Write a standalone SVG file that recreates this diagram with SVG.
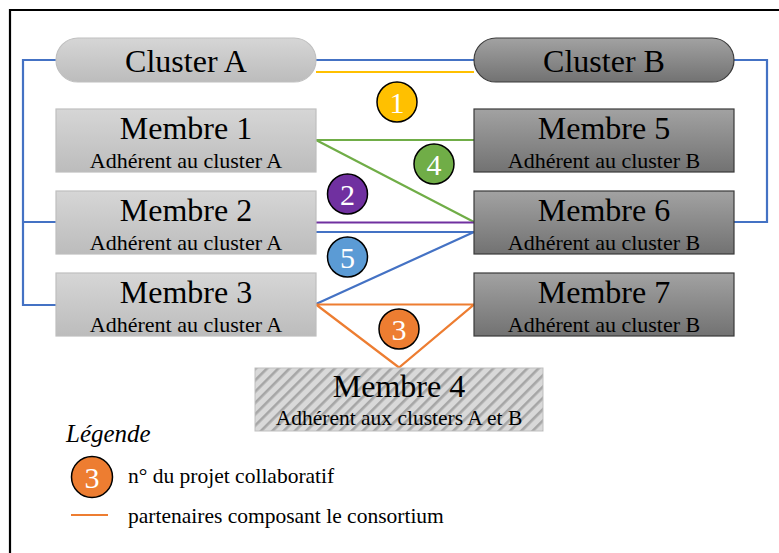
<svg xmlns="http://www.w3.org/2000/svg" width="779" height="553" viewBox="0 0 779 553">
<defs>
<linearGradient id="gLight" x1="0" y1="0" x2="0" y2="1"><stop offset="0" stop-color="#d6d6d6"/><stop offset="1" stop-color="#bcbcbc"/></linearGradient>
<linearGradient id="gDark" x1="0" y1="0" x2="0" y2="1"><stop offset="0" stop-color="#a2a2a2"/><stop offset="1" stop-color="#727272"/></linearGradient>
<pattern id="hatch" width="8" height="8" patternUnits="userSpaceOnUse" patternTransform="rotate(45)">
<rect width="8" height="8" fill="#d9d9d9"/><rect x="0" y="0" width="2.6" height="8" fill="#a6a6a6"/>
</pattern>
<style>
text{font-family:'Liberation Serif','Times New Roman','DejaVu Serif',serif}
.t{fill:#000;text-anchor:middle}
.big{font-size:32px}
.sub{font-size:22px}
.light{fill:url(#gLight);stroke:#bfbfbf;stroke-width:1.2}
.dark{fill:url(#gDark);stroke:#3a3a3a;stroke-width:1.2}
.ln{fill:none;stroke-width:2.2}
.num{font-size:30px;fill:#fff;text-anchor:middle}
.circ{stroke:#000;stroke-width:1.5}
.leg{font-size:21.5px;fill:#000}
</style>
</defs>
<rect x="0" y="0" width="779" height="553" fill="#fff"/>
<path d="M10,560 V10 H790" fill="none" stroke="#000" stroke-width="2.2"/>

<g id="connectors">
<path class="ln" stroke="#4472c4" d="M56,60 H23 V305 H56 M23,222 H56"/>
<path class="ln" stroke="#4472c4" d="M316,60 H474"/>
<path class="ln" stroke="#4472c4" d="M734,60 H767 V222 H734"/>
<path class="ln" stroke="#ffc000" d="M316,72 H474"/>
<path class="ln" stroke="#70ad47" d="M316,140 H474 M316,140 L474,222"/>
<path class="ln" stroke="#7030a0" d="M316,222.5 H474"/>
<path class="ln" stroke="#4472c4" d="M316,232 H474 M316,304 L474,232"/>
<path class="ln" stroke="#ed7d31" d="M316,304.5 H474 L399,367.5 Z"/>
</g>

<g id="clusterA"><rect class="light" x="56" y="38" width="260" height="44" rx="22"/><text class="t big" x="186" y="72">Cluster A</text></g>
<g id="clusterB"><rect class="dark" x="474" y="38" width="260" height="44" rx="22"/><text class="t big" x="604" y="72">Cluster B</text></g>

<g id="membre1"><rect class="light" x="56" y="109" width="260" height="63"/><text class="t big" x="186" y="139">Membre 1</text><text class="t sub" x="186" y="168">Adhérent au cluster A</text></g>
<g id="membre2"><rect class="light" x="56" y="191" width="260" height="63"/><text class="t big" x="186" y="221">Membre 2</text><text class="t sub" x="186" y="250">Adhérent au cluster A</text></g>
<g id="membre3"><rect class="light" x="56" y="273" width="260" height="63"/><text class="t big" x="186" y="303">Membre 3</text><text class="t sub" x="186" y="332">Adhérent au cluster A</text></g>
<g id="membre5"><rect class="dark" x="474" y="109" width="260" height="63"/><text class="t big" x="604" y="139">Membre 5</text><text class="t sub" x="604" y="168">Adhérent au cluster B</text></g>
<g id="membre6"><rect class="dark" x="474" y="191" width="260" height="63"/><text class="t big" x="604" y="221">Membre 6</text><text class="t sub" x="604" y="250">Adhérent au cluster B</text></g>
<g id="membre7"><rect class="dark" x="474" y="273" width="260" height="63"/><text class="t big" x="604" y="303">Membre 7</text><text class="t sub" x="604" y="332">Adhérent au cluster B</text></g>
<g id="membre4"><rect x="255" y="368" width="288" height="63" fill="url(#hatch)" stroke="#bfbfbf" stroke-width="1"/><text class="t big" x="399" y="397">Membre 4</text><text class="t" x="399" y="425" style="font-size:21.5px">Adhérent aux clusters A et B</text></g>

<g id="p1"><circle class="circ" cx="397" cy="102" r="20" fill="#ffc000"/><text class="num" x="397" y="113">1</text></g>
<g id="p2"><circle class="circ" cx="347.5" cy="194" r="20" fill="#7030a0"/><text class="num" x="347.5" y="205">2</text></g>
<g id="p3"><circle class="circ" cx="399" cy="329" r="20" fill="#ed7d31"/><text class="num" x="399" y="340">3</text></g>
<g id="p4"><circle class="circ" cx="434" cy="164" r="20" fill="#70ad47"/><text class="num" x="434" y="175">4</text></g>
<g id="p5"><circle class="circ" cx="347.5" cy="257" r="20" fill="#5b9bd5"/><text class="num" x="347.5" y="268">5</text></g>

<g id="legend">
<text class="leg" x="66" y="442" font-style="italic" style="font-size:25px">Légende</text>
<circle class="circ" cx="92" cy="477" r="20.5" fill="#ed7d31"/><text class="num" x="92" y="488">3</text>
<text class="leg" x="128" y="483">n° du projet collaboratif</text>
<line x1="71" y1="515" x2="108" y2="515" stroke="#ed7d31" stroke-width="2.2"/>
<text class="leg" x="128" y="523">partenaires composant le consortium</text>
</g>
</svg>
